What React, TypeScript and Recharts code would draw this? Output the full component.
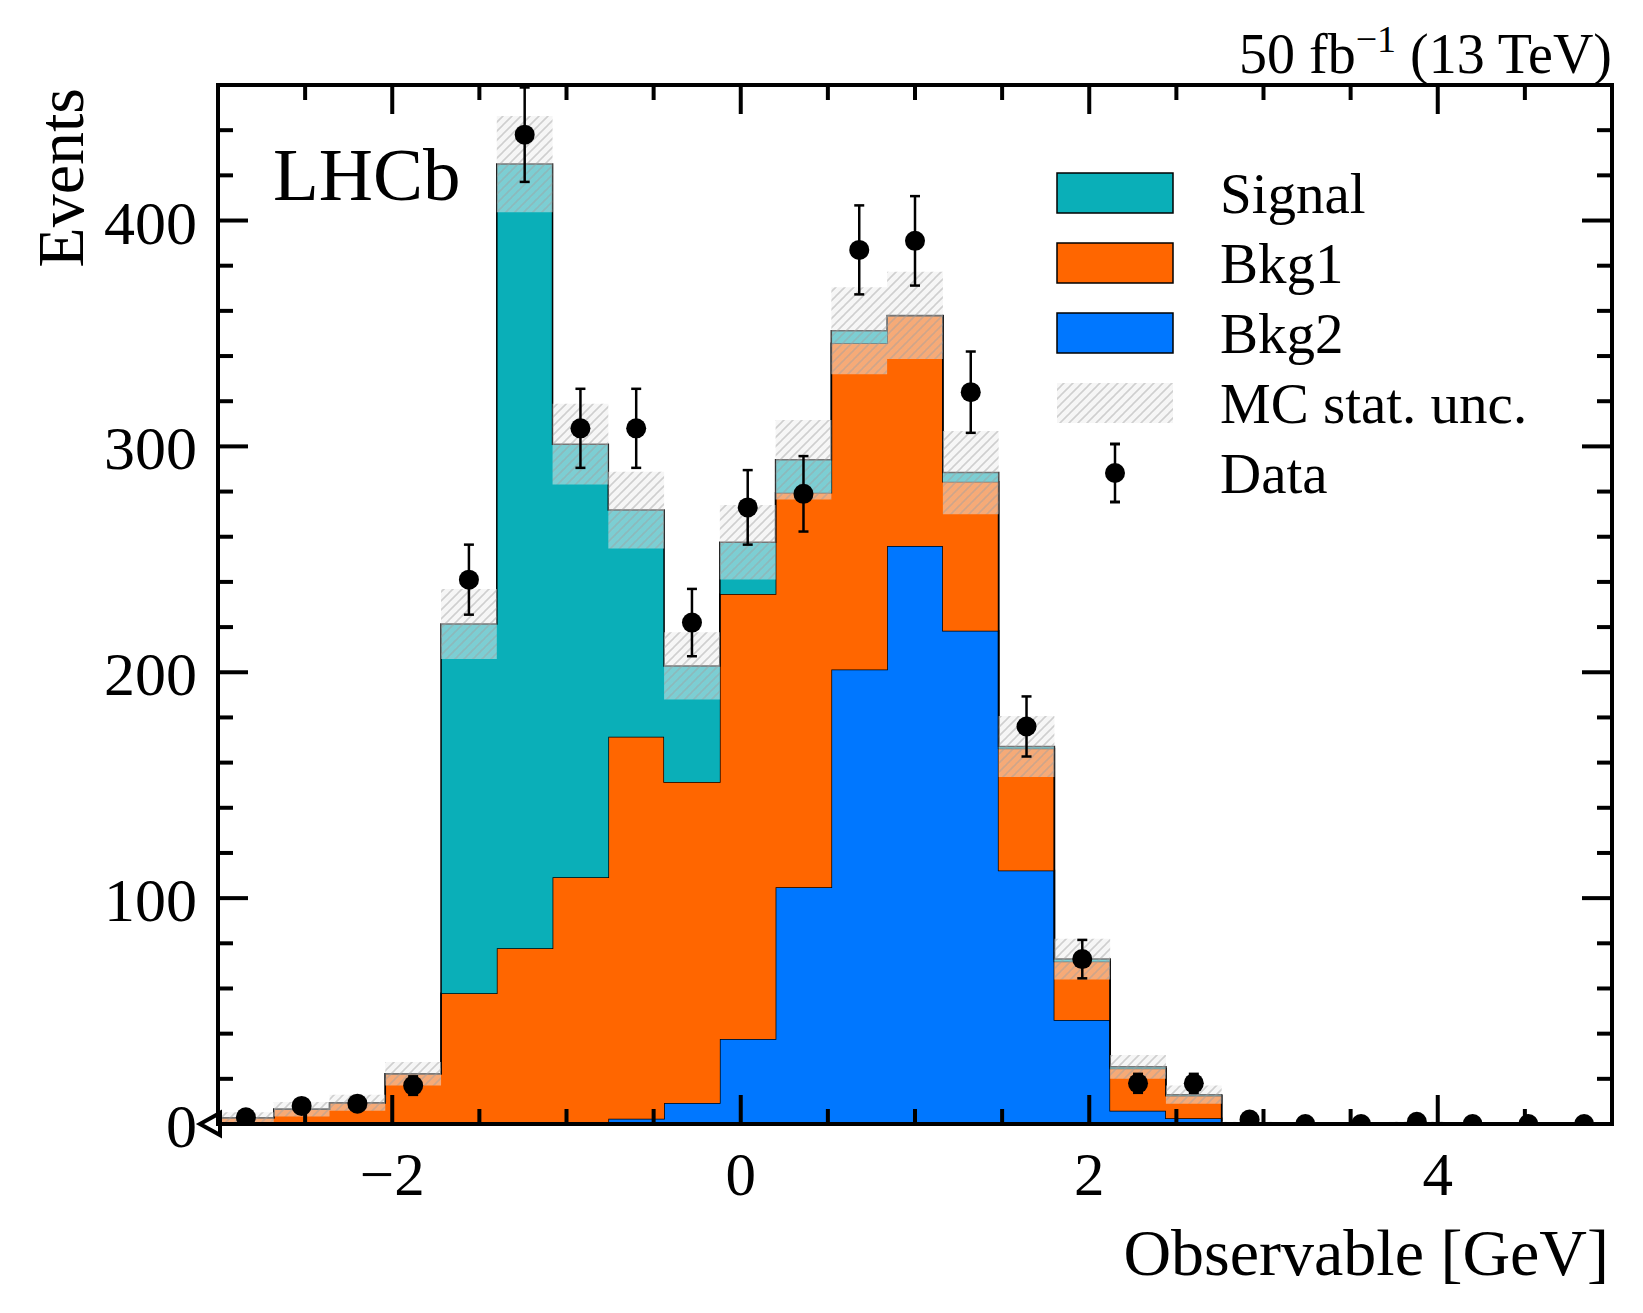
import React from "react"
import { ComposedChart, Area, Scatter, ErrorBar, XAxis, YAxis } from "recharts"

// binning of the observable (GeV)
const binEdges = [
  -3, -2.68, -2.36, -2.04, -1.72, -1.4, -1.08, -0.76, -0.44, -0.12, 0.2, 0.52, 0.84,
  1.16, 1.48, 1.8, 2.12, 2.44, 2.76, 3.08, 3.4, 3.72, 4.04, 4.36, 4.68, 5,
]
const binCenters = [
  -2.84, -2.52, -2.2, -1.88, -1.56, -1.24, -0.92, -0.6, -0.28, 0.04, 0.36, 0.68, 1.0,
  1.32, 1.64, 1.96, 2.28, 2.6, 2.92, 3.24, 3.56, 3.88, 4.2, 4.52, 4.84,
]

// stacked MC components, per bin
const bkg2 = [
  0, 0, 0, 0, 0, 0, 0, 2.3, 9.3, 37.6, 104.8, 201.2, 255.9, 218.4, 112.2, 46.0, 5.9, 2.5,
  0, 0, 0, 0, 0, 0, 0,
]
const bkg1 = [
  2.8, 6.5, 9.4, 22.3, 57.9, 77.8, 109.2, 169.1, 142.1, 197.0, 174.7, 144.5, 101.9, 65.9,
  54.1, 25.9, 18.7, 10.0, 0.4, 0.2, 0.1, 0.5, 0.1, 0.1, 0.1,
]
const signal = [
  0, 0, 0, 0, 163.5, 347.2, 191.8, 100.4, 51.4, 23.0, 14.6, 5.5, 0.2, 4.1, 0.8, 1.1, 0.7,
  0.5, 0.1, 0.1, 0, 0.1, 0.1, 0, 0,
]
const mcUnc = [
  2.4, 3.2, 3.5, 5.2, 15.5, 21.3, 17.9, 17.0, 14.9, 16.5, 17.6, 19.3, 19.3, 18.4, 13.5, 9.0,
  5.3, 4.0, 0.5, 0.3, 0.2, 0.5, 0.3, 0.2, 0.2,
]

// observed data
const dataCounts = [
  3, 8, 9, 17, 241, 438, 308, 308, 222, 273, 279, 387, 391, 324, 176, 73, 18, 18, 2, 0, 0, 1,
  0, 0, 0,
]
const dataErr = [
  1.7, 2.8, 3.0, 4.1, 15.5, 20.9, 17.5, 17.5, 14.9, 16.5, 16.7, 19.7, 19.8, 18.0, 13.3, 8.5,
  4.2, 4.2, 1.4, 0, 0, 1.0, 0, 0, 0,
]

const xTicks = [-2.5, -2, -1.5, -1, -0.5, 0, 0.5, 1, 1.5, 2, 2.5, 3, 3.5, 4, 4.5]
const xLabels = [-2, 0, 2, 4]
const yTicks = [
  0, 20, 40, 60, 80, 100, 120, 140, 160, 180, 200, 220, 240, 260, 280, 300, 320, 340, 360,
  380, 400, 420, 440,
]
const yLabels = [0, 100, 200, 300, 400]

const legendItems = [
  { name: "Signal", color: "#0aafb8" },
  { name: "Bkg1", color: "#ff6600" },
  { name: "Bkg2", color: "#0077ff" },
]

const FONT = "'Liberation Serif', 'Times New Roman', serif"
const W = 1627
const H = 1297
const M = { top: 77, right: 23, bottom: 181, left: 210 }
const PW = W - M.left - M.right
const PH = H - M.top - M.bottom

// step areas need one point per edge, last one repeats the final bin
const histData = binEdges.map((x, i) => {
  const k = Math.min(i, bkg2.length - 1)
  const total = bkg2[k] + bkg1[k] + signal[k]
  return { x, bkg2: bkg2[k], bkg1: bkg1[k], signal: signal[k], lo: total - mcUnc[k], hi: total + mcUnc[k] }
})

const points = binCenters.map((x, i) => ({ x, y: dataCounts[i], err: dataErr[i] }))

const fmt = (v: number) => (v < 0 ? "\u2212" + Math.abs(v) : String(v))

// bottom axis tick, mirrored on the top frame
function XTick({ x, y, payload }: any) {
  const major = xLabels.includes(payload.value)
  const len = major ? 29 : 15
  return (
    <g>
      <line x1={x} y1={y} x2={x} y2={y - len} stroke="#000" strokeWidth={4} />
      <line x1={x} y1={y - PH} x2={x} y2={y - PH + len} stroke="#000" strokeWidth={4} />
      {major && (
        <text x={x} y={y + 71} textAnchor="middle" fontSize={61} fontFamily={FONT} fill="#000">
          {fmt(payload.value)}
        </text>
      )}
    </g>
  )
}

// left axis tick, mirrored on the right frame
function YTick({ x, y, payload }: any) {
  const major = yLabels.includes(payload.value)
  const len = major ? 30 : 15
  return (
    <g>
      <line x1={x} y1={y} x2={x + len} y2={y} stroke="#000" strokeWidth={4} />
      <line x1={x + PW} y1={y} x2={x + PW - len} y2={y} stroke="#000" strokeWidth={4} />
      {major && (
        <text x={x - 21} y={y + 23} textAnchor="end" fontSize={62} fontFamily={FONT} fill="#000">
          {payload.value}
        </text>
      )}
      {payload.value === 0 && (
        <polygon
          points={`${x - 18},${y} ${x + 2},${y - 11} ${x + 2},${y + 11}`}
          fill="#fff"
          stroke="#000"
          strokeWidth={4}
        />
      )}
    </g>
  )
}

function Hatch({ id }: { id: string }) {
  return (
    <pattern id={id} patternUnits="userSpaceOnUse" width={9} height={9}>
      <rect width={9} height={9} fill="#eeeeee" fillOpacity={0.5} />
      <path d="M0,9 L9,0 M-2,2 L2,-2 M7,11 L11,7" stroke="#a0a0a0" strokeOpacity={0.45} strokeWidth={1.6} />
    </pattern>
  )
}

function Overlay() {
  return (
    <svg width={W} height={H} style={{ position: "absolute", left: 0, top: 0, pointerEvents: "none" }}>
      <defs>
        <Hatch id="hatchLegend" />
      </defs>
      <rect x={M.left} y={M.top} width={PW} height={PH} fill="none" stroke="#000" strokeWidth={4} />
      <text x={1604} y={65} textAnchor="end" fontSize={56} fontFamily={FONT} fill="#000">
        50 fb
        <tspan dy={-21} fontSize={38}>
          {"\u22121"}
        </tspan>
        <tspan dy={21}> (13 TeV)</tspan>
      </text>
      <text x={265} y={192} fontSize={75} fontFamily={FONT} fill="#000">
        LHCb
      </text>
      <text
        transform="translate(75,80) rotate(-90)"
        textAnchor="end"
        fontSize={66}
        fontFamily={FONT}
        fill="#000"
      >
        Events
      </text>
      <text x={1601} y={1267} textAnchor="end" fontSize={66} fontFamily={FONT} fill="#000">
        Observable [GeV]
      </text>
      {legendItems.map((it, k) => (
        <g key={it.name}>
          <rect x={1049} y={165 + 70 * k} width={116} height={40} fill={it.color} stroke="#000" strokeWidth={1.5} />
          <text x={1212} y={205 + 70 * k} fontSize={57} fontFamily={FONT} fill="#000">
            {it.name}
          </text>
        </g>
      ))}
      <rect x={1049} y={375} width={116} height={40} fill="url(#hatchLegend)" />
      <text x={1212} y={415} fontSize={57} fontFamily={FONT} fill="#000">
        MC stat. unc.
      </text>
      <line x1={1107} y1={436} x2={1107} y2={494} stroke="#000" strokeWidth={2.5} />
      <line x1={1102} y1={436} x2={1112} y2={436} stroke="#000" strokeWidth={3} />
      <line x1={1102} y1={494} x2={1112} y2={494} stroke="#000" strokeWidth={3} />
      <circle cx={1107} cy={465} r={10} fill="#000" />
      <text x={1212} y={485} fontSize={57} fontFamily={FONT} fill="#000">
        Data
      </text>
    </svg>
  )
}

export default function App() {
  return (
    <div style={{ position: "relative", width: W, height: H, background: "#fff" }}>
      <ComposedChart width={W} height={H} data={histData} margin={{ top: M.top, right: M.right, bottom: 0, left: 0 }}>
        <defs>
          <Hatch id="hatchBand" />
        </defs>
        <XAxis
          dataKey="x"
          type="number"
          domain={[-3, 5]}
          allowDataOverflow
          ticks={xTicks}
          interval={0}
          height={M.bottom}
          tickSize={0}
          tickMargin={0}
          tickLine={false}
          axisLine={false}
          tick={(p: any) => <XTick {...p} />}
        />
        <YAxis
          type="number"
          domain={[0, 460]}
          allowDataOverflow
          ticks={yTicks}
          interval={0}
          width={M.left}
          tickSize={0}
          tickMargin={0}
          tickLine={false}
          axisLine={false}
          tick={(p: any) => <YTick {...p} />}
        />
        <Area type="stepAfter" dataKey="bkg2" stackId="mc" fill="#0077ff" fillOpacity={1} stroke="#000" strokeWidth={1.5} dot={false} activeDot={false} isAnimationActive={false} />
        <Area type="stepAfter" dataKey="bkg1" stackId="mc" fill="#ff6600" fillOpacity={1} stroke="#000" strokeWidth={1.5} dot={false} activeDot={false} isAnimationActive={false} />
        <Area type="stepAfter" dataKey="signal" stackId="mc" fill="#0aafb8" fillOpacity={1} stroke="#000" strokeWidth={1.5} dot={false} activeDot={false} isAnimationActive={false} />
        <Area
          type="stepAfter"
          dataKey={(d: any) => [d.lo, d.hi]}
          fill="url(#hatchBand)"
          fillOpacity={1}
          stroke="none"
          dot={false}
          activeDot={false}
          isAnimationActive={false}
        />
        <Scatter
          data={points}
          dataKey="y"
          isAnimationActive={false}
          shape={(p: any) => <circle cx={p.cx} cy={p.cy} r={10} fill="#000" />}
        >
          <ErrorBar dataKey="err" direction="y" width={5} stroke="#000" strokeWidth={2.5} />
        </Scatter>
      </ComposedChart>
      <Overlay />
    </div>
  )
}
